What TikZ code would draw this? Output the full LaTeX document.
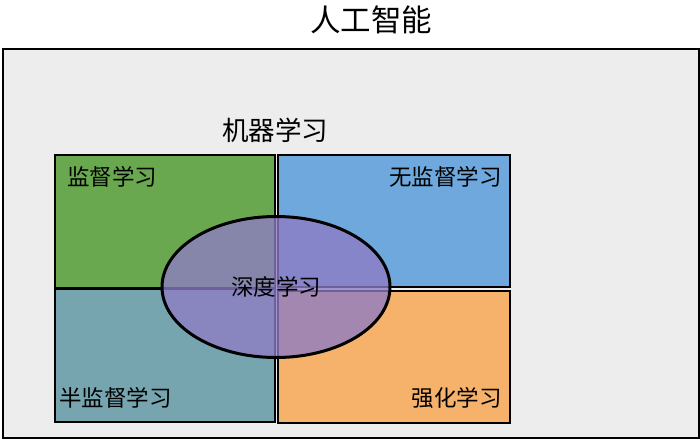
\documentclass[tikz,border=0pt]{standalone}
\usepackage{fontspec}
\setmainfont{Noto Sans CJK SC}
\usetikzlibrary{shapes.geometric}
\definecolor{bgray}{RGB}{237,237,237}
\definecolor{cgreen}{RGB}{106,168,79}
\definecolor{cblue}{RGB}{111,168,220}
\definecolor{cteal}{RGB}{118,165,175}
\definecolor{corange}{RGB}{246,178,107}
\definecolor{cpurple}{RGB}{142,124,196}
\begin{document}
\begin{tikzpicture}[x=1pt,y=-1pt,
  quad/.style={draw=black, line width=2pt, rectangle, anchor=north west, inner sep=0pt},
  lbl/.style={font=\fontsize{22.5}{26}\selectfont, inner sep=0pt}]
\useasboundingbox (0,0) rectangle (700,440);
\node[lbl, font=\fontsize{30.5}{34}\selectfont] (title) at (371,20) {人工智能};
\node[quad, fill=bgray, minimum width=696pt, minimum height=389pt] (ai) at (2,48) {};
\node[lbl, font=\fontsize{26.5}{30}\selectfont] (ml) at (275,130) {机器学习};
\node[quad, fill=cgreen, minimum width=220pt, minimum height=133pt] (sup) at (54,154) {};
\node[quad, fill=cblue, minimum width=232pt, minimum height=132pt] (unsup) at (277,154) {};
\node[quad, fill=cteal, minimum width=220pt, minimum height=133pt] (semi) at (54,288) {};
\node[quad, fill=corange, minimum width=232pt, minimum height=132pt] (rl) at (277,290) {};
\node[ellipse, fill=cpurple, fill opacity=0.78, text opacity=1, draw=black, draw opacity=1, line width=3pt,
  minimum width=228pt, minimum height=141pt, inner sep=0pt, font=\fontsize{22.5}{26}\selectfont] (deep) at (276,287) {深度学习};
\node[lbl, anchor=west] (tsup) at (67,177) {监督学习};
\node[lbl, anchor=east] (tunsup) at (502,177) {无监督学习};
\node[lbl, anchor=west] (tsemi) at (59,398) {半监督学习};
\node[lbl, anchor=east] (trl) at (502,398) {强化学习};
\end{tikzpicture}
\end{document}
